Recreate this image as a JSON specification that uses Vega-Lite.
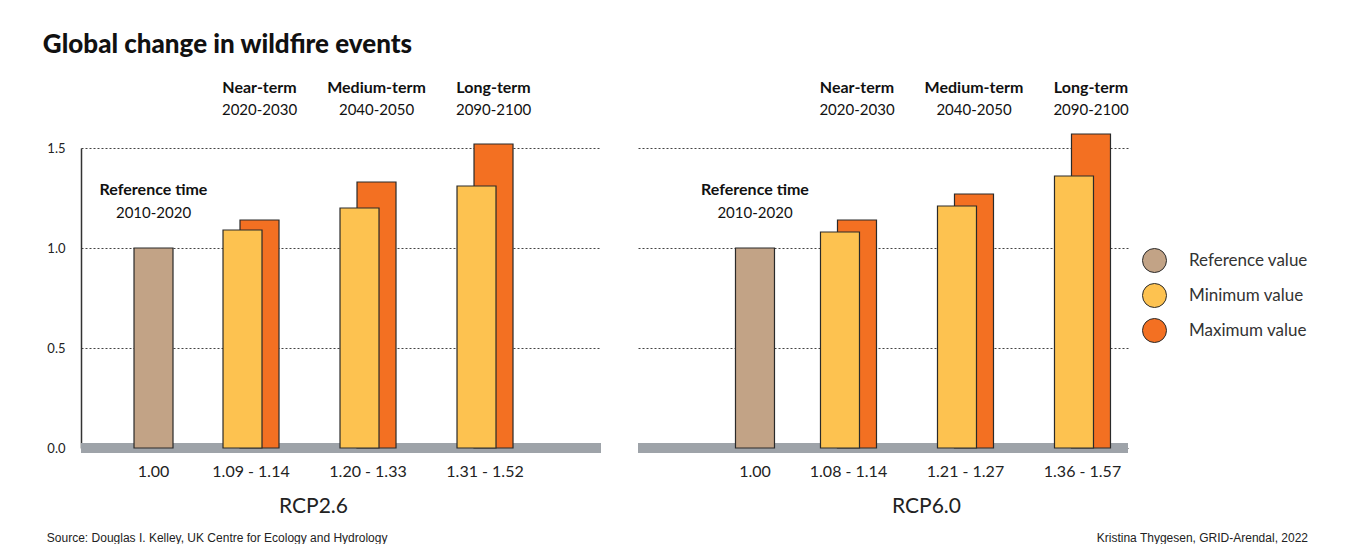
{
  "$schema": "https://vega.github.io/schema/vega-lite/v6.json",
  "background": "white",
  "padding": {"left": 42, "top": 32, "right": 0, "bottom": 0},
  "title": {
    "text": "Global change in wildfire events",
    "anchor": "start",
    "font": "Lato",
    "fontSize": 26,
    "fontWeight": 900,
    "color": "#111111",
    "dx": -4,
    "offset": 22
  },
  "datasets": {
    "bars": [
      {"scenario": "RCP2.6", "period": "ref", "kind": "Reference value", "value": 1.00},
      {"scenario": "RCP2.6", "period": "near", "kind": "Minimum value", "value": 1.09},
      {"scenario": "RCP2.6", "period": "near", "kind": "Maximum value", "value": 1.14},
      {"scenario": "RCP2.6", "period": "medium", "kind": "Minimum value", "value": 1.20},
      {"scenario": "RCP2.6", "period": "medium", "kind": "Maximum value", "value": 1.33},
      {"scenario": "RCP2.6", "period": "long", "kind": "Minimum value", "value": 1.31},
      {"scenario": "RCP2.6", "period": "long", "kind": "Maximum value", "value": 1.52},
      {"scenario": "RCP6.0", "period": "ref", "kind": "Reference value", "value": 1.00},
      {"scenario": "RCP6.0", "period": "near", "kind": "Minimum value", "value": 1.08},
      {"scenario": "RCP6.0", "period": "near", "kind": "Maximum value", "value": 1.14},
      {"scenario": "RCP6.0", "period": "medium", "kind": "Minimum value", "value": 1.21},
      {"scenario": "RCP6.0", "period": "medium", "kind": "Maximum value", "value": 1.27},
      {"scenario": "RCP6.0", "period": "long", "kind": "Minimum value", "value": 1.36},
      {"scenario": "RCP6.0", "period": "long", "kind": "Maximum value", "value": 1.57}
    ],
    "periods": [
      {"scenario": "RCP2.6", "period": "ref", "name": "Reference time", "years": "2010-2020", "range": "1.00"},
      {"scenario": "RCP2.6", "period": "near", "name": "Near-term", "years": "2020-2030", "range": "1.09 - 1.14"},
      {"scenario": "RCP2.6", "period": "medium", "name": "Medium-term", "years": "2040-2050", "range": "1.20 - 1.33"},
      {"scenario": "RCP2.6", "period": "long", "name": "Long-term", "years": "2090-2100", "range": "1.31 - 1.52"},
      {"scenario": "RCP6.0", "period": "ref", "name": "Reference time", "years": "2010-2020", "range": "1.00"},
      {"scenario": "RCP6.0", "period": "near", "name": "Near-term", "years": "2020-2030", "range": "1.08 - 1.14"},
      {"scenario": "RCP6.0", "period": "medium", "name": "Medium-term", "years": "2040-2050", "range": "1.21 - 1.27"},
      {"scenario": "RCP6.0", "period": "long", "name": "Long-term", "years": "2090-2100", "range": "1.36 - 1.57"}
    ]
  },
  "spacing": 27,
  "resolve": {"scale": {"color": "independent"}},
  "hconcat": [
    {
      "width": 520,
      "height": 300,
      "data": {"name": "bars"},
      "transform": [{"filter": "datum.scenario === 'RCP2.6'"}],
      "title": {
        "text": "Source: Douglas I. Kelley, UK Centre for Ecology and Hydrology",
        "orient": "bottom",
        "anchor": "start",
        "font": "Liberation Sans",
        "fontSize": 12,
        "fontWeight": "normal",
        "color": "#222222",
        "offset": 17
      },
      "layer": [
        {
          "mark": {"type": "rule", "color": "#9ea3a9", "strokeWidth": 10},
          "encoding": {"y": {"datum": 0, "type": "quantitative"}}
        },
        {
          "transform": [{"filter": "datum.kind === 'Maximum value'"}],
          "mark": {"type": "bar", "width": 39, "xOffset": 8.5, "stroke": "#2a2a2a", "strokeWidth": 1.2},
          "encoding": {
            "x": {
              "field": "period", "type": "nominal",
              "scale": {"domain": ["ref", "near", "medium", "long"], "paddingInner": 0.5, "paddingOuter": 0.4722, "align": 0.215},
              "axis": {"title": "RCP2.6", "labels": false, "ticks": false, "domain": false, "titleX": 232, "titleAlign": "center", "titlePadding": 64, "titleBaseline": "alphabetic", "titleFont": "Lato", "titleFontSize": 21, "titleFontWeight": "normal", "titleColor": "#222222"}
            },
            "y": {
              "field": "value", "type": "quantitative",
              "scale": {"domain": [0, 1.5], "nice": false},
              "axis": {"title": null, "values": [0, 0.5, 1, 1.5], "format": ".1f", "grid": true, "gridDash": [2, 2], "gridColor": "#444444", "gridWidth": 1, "domain": true, "domainColor": "#333333", "domainWidth": 1.5, "ticks": false, "labelPadding": 16, "labelFont": "Lato", "labelFontSize": 13, "labelColor": "#222222"}
            },
            "color": {
              "field": "kind", "type": "nominal",
              "scale": {"domain": ["Reference value", "Minimum value", "Maximum value"], "range": ["#c2a386", "#fdc250", "#f37022"]},
              "legend": null
            }
          }
        },
        {
          "transform": [{"filter": "datum.kind === 'Minimum value'"}],
          "mark": {"type": "bar", "width": 39, "xOffset": -8.5, "stroke": "#2a2a2a", "strokeWidth": 1.2},
          "encoding": {
            "x": {"field": "period", "type": "nominal"},
            "y": {"field": "value", "type": "quantitative"},
            "color": {"field": "kind", "type": "nominal", "legend": null}
          }
        },
        {
          "transform": [{"filter": "datum.kind === 'Reference value'"}],
          "mark": {"type": "bar", "width": 39, "xOffset": 19.5, "stroke": "#2a2a2a", "strokeWidth": 1.2},
          "encoding": {
            "x": {"field": "period", "type": "nominal"},
            "y": {"field": "value", "type": "quantitative"},
            "color": {"field": "kind", "type": "nominal", "legend": null}
          }
        },
        {
          "data": {"name": "periods"},
          "transform": [{"filter": "datum.scenario === 'RCP2.6' && datum.period !== 'ref'"}],
          "layer": [
            {
              "mark": {"type": "text", "xOffset": 8.5, "dy": -55, "baseline": "alphabetic", "font": "Lato", "fontSize": 16, "fontWeight": "bold", "color": "#111111"},
              "encoding": {"x": {"field": "period", "type": "nominal"}, "y": {"datum": 1.5, "type": "quantitative"}, "text": {"field": "name"}}
            },
            {
              "mark": {"type": "text", "xOffset": 8.5, "dy": -33, "baseline": "alphabetic", "font": "Lato", "fontSize": 15, "color": "#111111"},
              "encoding": {"x": {"field": "period", "type": "nominal"}, "y": {"datum": 1.5, "type": "quantitative"}, "text": {"field": "years"}}
            },
            {
              "mark": {"type": "text", "dy": 29, "baseline": "alphabetic", "font": "Lato", "fontSize": 16, "color": "#222222"},
              "encoding": {"x": {"field": "period", "type": "nominal"}, "y": {"datum": 0, "type": "quantitative"}, "text": {"field": "range"}}
            }
          ]
        },
        {
          "data": {"name": "periods"},
          "transform": [{"filter": "datum.scenario === 'RCP2.6' && datum.period === 'ref'"}],
          "layer": [
            {
              "mark": {"type": "text", "xOffset": 19.5, "dy": -53, "baseline": "alphabetic", "font": "Lato", "fontSize": 16, "fontWeight": "bold", "color": "#111111"},
              "encoding": {"x": {"field": "period", "type": "nominal"}, "y": {"datum": 1.0, "type": "quantitative"}, "text": {"field": "name"}}
            },
            {
              "mark": {"type": "text", "xOffset": 19.5, "dy": -30, "baseline": "alphabetic", "font": "Lato", "fontSize": 15, "color": "#111111"},
              "encoding": {"x": {"field": "period", "type": "nominal"}, "y": {"datum": 1.0, "type": "quantitative"}, "text": {"field": "years"}}
            },
            {
              "mark": {"type": "text", "xOffset": 19.5, "dy": 29, "baseline": "alphabetic", "font": "Lato", "fontSize": 16, "color": "#222222"},
              "encoding": {"x": {"field": "period", "type": "nominal"}, "y": {"datum": 0, "type": "quantitative"}, "text": {"field": "range"}}
            }
          ]
        }
      ]
    },
    {
      "width": 490,
      "height": 300,
      "data": {"name": "bars"},
      "transform": [{"filter": "datum.scenario === 'RCP6.0'"}],
      "title": {
        "text": "Kristina Thygesen, GRID-Arendal, 2022",
        "orient": "bottom",
        "anchor": "end",
        "font": "Liberation Sans",
        "fontSize": 12,
        "fontWeight": "normal",
        "color": "#222222",
        "offset": 17
      },
      "layer": [
        {
          "mark": {"type": "rule", "color": "#9ea3a9", "strokeWidth": 10},
          "encoding": {"y": {"datum": 0, "type": "quantitative"}}
        },
        {
          "transform": [{"filter": "datum.kind === 'Maximum value'"}],
          "mark": {"type": "bar", "width": 39, "xOffset": 8.5, "stroke": "#2a2a2a", "strokeWidth": 1.2},
          "encoding": {
            "x": {
              "field": "period", "type": "nominal",
              "scale": {"domain": ["ref", "near", "medium", "long"], "paddingInner": 0.5, "paddingOuter": 0.344, "align": 0.798},
              "axis": {"title": "RCP6.0", "labels": false, "ticks": false, "domain": false, "titleX": 288, "titleAlign": "center", "titlePadding": 64, "titleBaseline": "alphabetic", "titleFont": "Lato", "titleFontSize": 21, "titleFontWeight": "normal", "titleColor": "#222222"}
            },
            "y": {
              "field": "value", "type": "quantitative",
              "scale": {"domain": [0, 1.5], "nice": false},
              "axis": {"title": null, "values": [0, 0.5, 1, 1.5], "grid": true, "gridDash": [2, 2], "gridColor": "#444444", "gridWidth": 1, "domain": false, "ticks": false, "labels": false}
            },
            "color": {
              "field": "kind", "type": "nominal",
              "scale": {"domain": ["Reference value", "Minimum value", "Maximum value"], "range": ["#c2a386", "#fdc250", "#f37022"]},
              "legend": {"orient": "none", "legendX": 504, "legendY": 100, "title": null, "symbolType": "circle", "symbolSize": 576, "symbolStrokeColor": "#2a2a2a", "symbolStrokeWidth": 1, "symbolOpacity": 1, "labelFont": "Lato", "labelFontSize": 17, "labelColor": "#333333", "labelOffset": 22, "rowPadding": 6}
            }
          }
        },
        {
          "transform": [{"filter": "datum.kind === 'Minimum value'"}],
          "mark": {"type": "bar", "width": 39, "xOffset": -8.5, "stroke": "#2a2a2a", "strokeWidth": 1.2},
          "encoding": {
            "x": {"field": "period", "type": "nominal"},
            "y": {"field": "value", "type": "quantitative"},
            "color": {"field": "kind", "type": "nominal"}
          }
        },
        {
          "transform": [{"filter": "datum.kind === 'Reference value'"}],
          "mark": {"type": "bar", "width": 39, "xOffset": 23.5, "stroke": "#2a2a2a", "strokeWidth": 1.2},
          "encoding": {
            "x": {"field": "period", "type": "nominal"},
            "y": {"field": "value", "type": "quantitative"},
            "color": {"field": "kind", "type": "nominal"}
          }
        },
        {
          "data": {"name": "periods"},
          "transform": [{"filter": "datum.scenario === 'RCP6.0' && datum.period !== 'ref'"}],
          "layer": [
            {
              "mark": {"type": "text", "xOffset": 8.5, "dy": -55, "baseline": "alphabetic", "font": "Lato", "fontSize": 16, "fontWeight": "bold", "color": "#111111"},
              "encoding": {"x": {"field": "period", "type": "nominal"}, "y": {"datum": 1.5, "type": "quantitative"}, "text": {"field": "name"}}
            },
            {
              "mark": {"type": "text", "xOffset": 8.5, "dy": -33, "baseline": "alphabetic", "font": "Lato", "fontSize": 15, "color": "#111111"},
              "encoding": {"x": {"field": "period", "type": "nominal"}, "y": {"datum": 1.5, "type": "quantitative"}, "text": {"field": "years"}}
            },
            {
              "mark": {"type": "text", "dy": 29, "baseline": "alphabetic", "font": "Lato", "fontSize": 16, "color": "#222222"},
              "encoding": {"x": {"field": "period", "type": "nominal"}, "y": {"datum": 0, "type": "quantitative"}, "text": {"field": "range"}}
            }
          ]
        },
        {
          "data": {"name": "periods"},
          "transform": [{"filter": "datum.scenario === 'RCP6.0' && datum.period === 'ref'"}],
          "layer": [
            {
              "mark": {"type": "text", "xOffset": 23.5, "dy": -53, "baseline": "alphabetic", "font": "Lato", "fontSize": 16, "fontWeight": "bold", "color": "#111111"},
              "encoding": {"x": {"field": "period", "type": "nominal"}, "y": {"datum": 1.0, "type": "quantitative"}, "text": {"field": "name"}}
            },
            {
              "mark": {"type": "text", "xOffset": 23.5, "dy": -30, "baseline": "alphabetic", "font": "Lato", "fontSize": 15, "color": "#111111"},
              "encoding": {"x": {"field": "period", "type": "nominal"}, "y": {"datum": 1.0, "type": "quantitative"}, "text": {"field": "years"}}
            },
            {
              "mark": {"type": "text", "xOffset": 23.5, "dy": 29, "baseline": "alphabetic", "font": "Lato", "fontSize": 16, "color": "#222222"},
              "encoding": {"x": {"field": "period", "type": "nominal"}, "y": {"datum": 0, "type": "quantitative"}, "text": {"field": "range"}}
            }
          ]
        }
      ]
    }
  ],
  "config": {
    "view": {"stroke": null}
  }
}
